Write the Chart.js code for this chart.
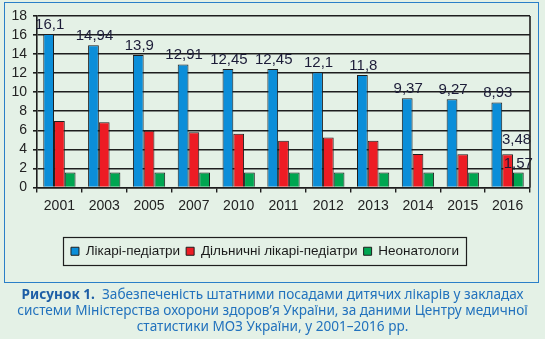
<!DOCTYPE html>
<html>
<head>
<meta charset="utf-8">
<script src="https://cdn.jsdelivr.net/npm/chart.js@4.4.0/dist/chart.umd.min.js"></script>
<style>
  body { margin: 0; background: #e4f1e6; width: 545px; height: 339px; overflow: hidden; position: relative; }
  #grafica { position: absolute; left: 0; top: 0; }
  .marco { position: absolute; left: 4px; top: 2px; width: 533px; height: 279px; border: 1.5px solid #2a7fc8; pointer-events: none; }
  .pie { position: absolute; left: 0; top: 286px; width: 545px; text-align: center;
         font-family: "Noto Sans", sans-serif; font-size: 13.6px; line-height: 16px; color: #2272bd; }
  .pie b { color: #1d5ea6; }
</style>
</head>
<body>
<canvas id="grafica" width="545" height="285"></canvas>
<div class="marco"></div>
<div class="pie"><b>Рисунок 1.</b>&nbsp; Забезпеченість штатними посадами дитячих лікарів у закладах<br>системи Міністерства охорони здоров’я України, за даними Центру медичної<br>статистики МОЗ України, у 2001–2016 рр.</div>
<script>
const anios = ["2001", "2003", "2005", "2007", "2010", "2011", "2012", "2013", "2014", "2015", "2016"];
const pediatras = [16.1, 14.94, 13.9, 12.91, 12.45, 12.45, 12.1, 11.8, 9.37, 9.27, 8.93];
const distritales = [6.97, 6.86, 5.96, 5.79, 5.65, 4.9, 5.25, 4.9, 3.52, 3.5, 3.48];
const neonatologos = [1.57, 1.57, 1.57, 1.57, 1.57, 1.57, 1.57, 1.57, 1.57, 1.57, 1.57];
const series = ["Лікарі-педіатри", "Дільничні лікарі-педіатри", "Неонатологи"];
const colores = ["#0b8ed9", "#ed1c24", "#00a651"];
const linea = "#1e1e1e";

const fmt = v => String(v).replace(".", ",");

// etiquetas de valores encima de las barras
const etiquetas = {
    id: "etiquetas",
    afterDatasetsDraw(chart) {
        const ctx = chart.ctx;
        const ultimo = anios.length - 1;
        ctx.save();
        ctx.font = "15px 'Liberation Sans', Arial, sans-serif";
        ctx.fillStyle = "#1c1c38";
        ctx.textAlign = "center";
        ctx.textBaseline = "bottom";
        chart.getDatasetMeta(0).data.forEach((bar, i) => {
            ctx.fillText(fmt(pediatras[i]), bar.x + 1, bar.y - 2);
        });
        const rojo = chart.getDatasetMeta(1).data[ultimo];
        ctx.fillText(fmt(distritales[ultimo]), rojo.x + 9, rojo.y - 7);
        const verde = chart.getDatasetMeta(2).data[ultimo];
        ctx.fillText(fmt(neonatologos[ultimo]), verde.x, verde.y - 1);
        ctx.restore();
    }
};

// borde derecho del area y recuadro de la leyenda
const marcos = {
    id: "marcos",
    afterDraw(chart) {
        const ctx = chart.ctx;
        const a = chart.chartArea;
        ctx.save();
        ctx.strokeStyle = linea;
        ctx.lineWidth = 1.6;
        ctx.beginPath();
        ctx.moveTo(Math.round(a.right), a.top);
        ctx.lineTo(Math.round(a.right), a.bottom);
        ctx.stroke();
        ctx.lineWidth = 1.2;
        const cajas = chart.legend.legendHitBoxes;
        if (cajas && cajas.length) {
            const izq = cajas[0].left - 8;
            const ult = cajas[cajas.length - 1];
            const der = ult.left + ult.width + 7;
            const cy = cajas[0].top + cajas[0].height / 2;
            ctx.strokeRect(Math.round(izq) + 0.5, Math.round(cy - 14) + 0.5, Math.round(der - izq), 28);
        }
        ctx.restore();
    }
};

const data = {
    labels: anios,
    datasets: [
        { label: series[0], data: pediatras, backgroundColor: colores[0] },
        { label: series[1], data: distritales, backgroundColor: colores[1] },
        { label: series[2], data: neonatologos, backgroundColor: colores[2] }
    ].map(d => Object.assign(d, { borderColor: linea, borderWidth: 1, categoryPercentage: 0.72, barPercentage: 1 }))
};

const config = {
    type: "bar",
    data: data,
    plugins: [etiquetas, marcos],
    options: {
        responsive: false,
        animation: false,
        layout: { padding: { left: 0, right: 15, top: 16, bottom: 17 } },
        plugins: {
            legend: {
                position: "bottom",
                labels: {
                    boxWidth: 8,
                    boxHeight: 8,
                    padding: 6,
                    color: "#1a1a1a",
                    font: { family: "'Liberation Sans', Arial, sans-serif", size: 13.5 }
                }
            },
            tooltip: { enabled: false }
        },
        scales: {
            x: {
                grid: { offset: true, drawOnChartArea: false, drawTicks: true, tickLength: 5, color: linea, lineWidth: 1.4 },
                border: { color: linea, width: 1.6 },
                ticks: { color: "#222", padding: 5, font: { family: "'Liberation Sans', Arial, sans-serif", size: 14 } },
                afterFit: s => { s.height = 51; }
            },
            y: {
                min: 0,
                max: 18,
                ticks: { stepSize: 2, autoSkip: false, color: "#222", padding: 6, font: { family: "'Liberation Sans', Arial, sans-serif", size: 14 } },
                grid: { color: linea, tickLength: 4, lineWidth: 1.6 },
                border: { color: linea, width: 1.6 },
                afterFit: s => { s.width = 37; }
            }
        }
    }
};

const ctx = document.querySelector("#grafica");
const graficaMedicos = new Chart(ctx, config);
</script>
</body>
</html>
